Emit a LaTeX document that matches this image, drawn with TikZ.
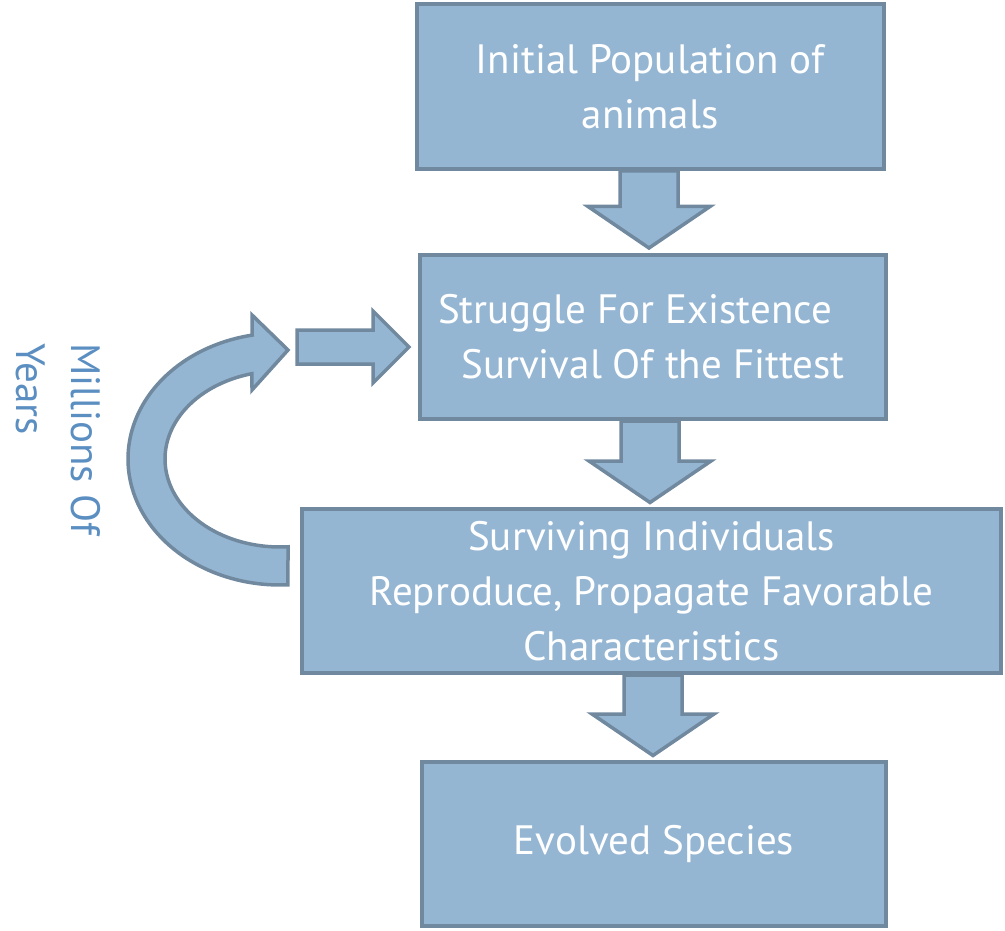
\documentclass[tikz,border=0pt]{standalone}
\usepackage{fontspec}
\setmainfont{PT Sans}
\usetikzlibrary{calc}
\definecolor{boxfill}{HTML}{95B6D3}
\definecolor{boxline}{HTML}{70899F}
\definecolor{sidetext}{HTML}{5B8EC1}
\newcommand\blockdown[2]{%
  \draw[barrow] let \p1=(#1), \p2=(#2) in
    (\x2-29pt,\y1) -- (\x2+29pt,\y1) -- (\x2+29pt,\y2+41.5pt) -- (\x2+61pt,\y2+41.5pt)
    -- (\x2,\y2) -- (\x2-61pt,\y2+41.5pt) -- (\x2-29pt,\y2+41.5pt) -- cycle;}
\begin{document}
\begin{tikzpicture}[x=1pt,y=-1pt,
  box/.style={draw=boxline, fill=boxfill, line width=4pt, text=white, align=center,
    inner sep=0pt, font=\fontsize{41}{55}\selectfont},
  barrow/.style={draw=boxline, fill=boxfill, line width=3.5pt, line join=miter},
  sidelabel/.style={text=sidetext, align=left, inner sep=0pt, font=\fontsize{41}{55}\selectfont}]
\useasboundingbox (0,0) rectangle (1005,931);
\node[box, minimum width=467pt, minimum height=165pt] (b1) at (650,86.5) {Initial Population of\\animals};
\node[box, minimum width=466pt, minimum height=164pt] (b2) at (653,337) {Struggle For Existence\hspace*{36pt}\\Survival Of the Fittest};
\node[box, minimum width=699pt, minimum height=164pt] (b3) at (651.5,591) {Surviving Individuals\\Reproduce, Propagate Favorable\\Characteristics};
\node[box, minimum width=464pt, minimum height=164pt] (b4) at (654,844) {Evolved Species};
\blockdown{b1.south}{$(b2.north)+(-4,-5)$}
\blockdown{b2.south}{$(b3.north)+(-1.5,-4.5)$}
\blockdown{b3.south}{$(b4.north)+(-1,-4.5)$}
% straight arrow into box 2
\draw[barrow] (297,330) -- (373,330) -- (373,311) -- (409,347) -- (373,383) -- (373,364) -- (297,364) -- cycle;
% curved arrow from box 3 back up
\draw[barrow] (288,350) -- (252,315) -- (252,335)
  -- plot[domain=259.4:87, samples=90] ({280+152*cos(\x)},{459+126*sin(\x)})
  -- plot[domain=86:255.9, samples=90] ({280+115*cos(\x)},{459+88*sin(\x)})
  -- (252,390) -- cycle;
\node[sidelabel, rotate=-90, anchor=north west] (yrs) at (101,343) {Millions Of\\Years};
\end{tikzpicture}
\end{document}
